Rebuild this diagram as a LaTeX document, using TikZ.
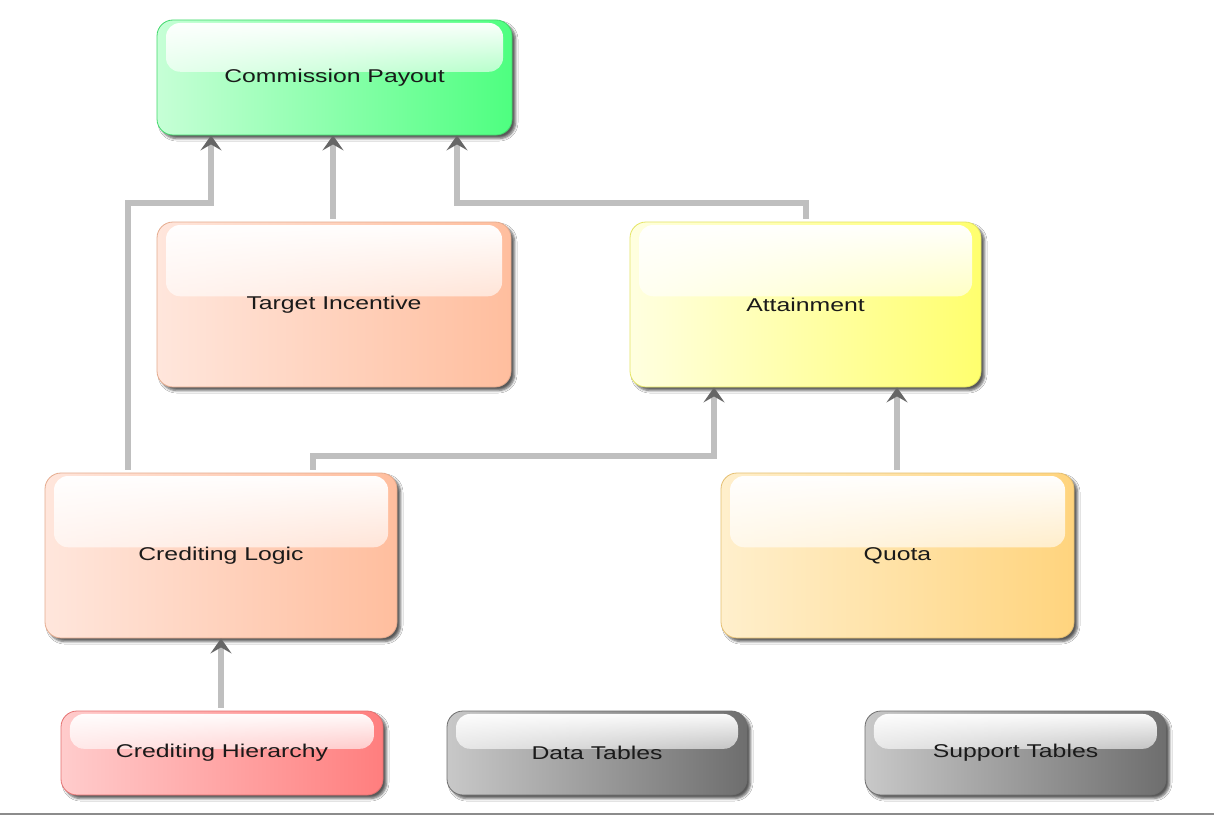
\documentclass[tikz,border=0pt]{standalone}
\usepackage{fontspec}
\setmainfont{Liberation Sans}
\newfontfamily\boxfont[FakeStretch=1.34]{Liberation Sans}
\usetikzlibrary{arrows.meta,calc,fadings,shadows.blur}
\tikzfading[name=glossfade, top color=transparent!0, middle color=transparent!72, bottom color=transparent!92]
\definecolor{grnL}{HTML}{C6FFD6}\definecolor{grnR}{HTML}{4EFF80}
\definecolor{salL}{HTML}{FFE6DC}\definecolor{salR}{HTML}{FFBE9E}
\definecolor{yelL}{HTML}{FFFFE0}\definecolor{yelR}{HTML}{FFFF6E}
\definecolor{orgL}{HTML}{FFEFCC}\definecolor{orgR}{HTML}{FFD47E}
\definecolor{redL}{HTML}{FFCCCC}\definecolor{redR}{HTML}{FF7E7E}
\definecolor{gryL}{HTML}{C8C8C8}\definecolor{gryR}{HTML}{6E6E6E}
\definecolor{shaft}{HTML}{BFBFBF}
\definecolor{tipc}{HTML}{666666}
\definecolor{txt}{HTML}{1A1A1A}
\tikzset{
  box/.style={rounded corners=16pt, inner sep=0pt, text=txt, font=\boxfont\fontsize{18.5}{21}\selectfont,
    blur shadow={shadow xshift=3.5pt, shadow yshift=-3.5pt, shadow blur steps=5, shadow blur radius=2.5pt, shadow opacity=65},
    path picture={
      \fill[white, path fading=glossfade, rounded corners=14pt]
        ([xshift=9pt,yshift=-3pt]path picture bounding box.north west) rectangle
        ($(path picture bounding box.north east)!0.45!(path picture bounding box.south east)+(-9pt,0)$);
    }},
  green/.style={box, left color=grnL, right color=grnR, draw=grnR!85!black, line width=0.8pt},
  salmon/.style={box, left color=salL, right color=salR, draw=salR!90!black, line width=0.8pt},
  yellow/.style={box, left color=yelL, right color=yelR, draw=yelR!90!black, line width=0.8pt},
  orange/.style={box, left color=orgL, right color=orgR, draw=orgR!90!black, line width=0.8pt},
  redbox/.style={box, left color=redL, right color=redR, draw=redR!90!black, line width=0.8pt},
  greybox/.style={box, left color=gryL, right color=gryR, draw=gryR, line width=0.8pt},
  conn/.style={draw=shaft, line width=6pt, shorten <=3pt,
    -{Stealth[length=15pt, width=21pt, inset=6pt, color=tipc]}},
}
\begin{document}
\begin{tikzpicture}[x=1pt, y=-1pt]
\useasboundingbox (0,0) rectangle (1214,816);
\fill[white] (0,0) rectangle (1214,816);
\draw[line width=2pt, color=black!45] (0,814) -- (1214,814);

\node[green, minimum width=355pt, minimum height=115pt] (cp) at (334.5,77.5) {Commission Payout};
\node[salmon, minimum width=354pt, minimum height=165pt] (ti) at (334,304.5) {Target Incentive};
\node[yellow, minimum width=351pt, minimum height=165pt] (at) at (805.5,304.5) {Attainment};
\node[salmon, minimum width=352pt, minimum height=165pt] (cl) at (221,555.5) {Crediting Logic};
\node[orange, minimum width=353pt, minimum height=165pt] (qu) at (897.5,555.5) {Quota};
\node[redbox, minimum width=322pt, minimum height=84pt] (ch) at (222,753) {Crediting Hierarchy};
\node[greybox, minimum width=300pt, minimum height=84pt] (dt) at (597,753) {Data Tables};
\node[greybox, minimum width=301pt, minimum height=84pt] (st) at (1015.5,753) {Support Tables};

\draw[conn] ([xshift=-93pt]cl.north) -- ++(0,-270) -| ([xshift=-123.5pt]cp.south);
\draw[conn] ([xshift=-1pt]ti.north) -- ([xshift=-1.5pt]cp.south);
\draw[conn] ([xshift=0.5pt]at.north) -- ++(0,-19) -| ([xshift=122.5pt]cp.south);
\draw[conn] ([xshift=92pt]cl.north) -- ++(0,-17) -| ([xshift=-91.5pt]at.south);
\draw[conn] ([xshift=-0.5pt]qu.north) -- ([xshift=91.5pt]at.south);
\draw[conn] ([xshift=-1pt]ch.north) -- (cl.south);
\end{tikzpicture}
\end{document}
